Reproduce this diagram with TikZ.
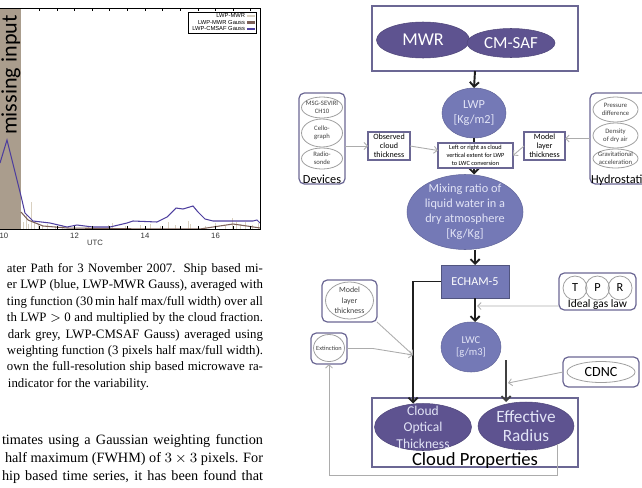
\documentclass[tikz,border=0pt]{standalone}
\usepackage{fontspec}
\setmainfont{Liberation Serif}
\newfontfamily\flow{Carlito}
\newfontfamily\plotsf{Liberation Sans}
\usetikzlibrary{shapes.geometric, arrows.meta}

\definecolor{frame}{HTML}{6B6794}
\definecolor{deep}{HTML}{5E5390}
\definecolor{mid}{HTML}{7479B6}
\definecolor{lightlab}{HTML}{E2E4F6}
\definecolor{gapshade}{HTML}{AA9D8D}
\definecolor{cmsafc}{HTML}{4D3E9E}
\definecolor{mwrgc}{HTML}{7D6158}
\definecolor{mwrc}{HTML}{D9D0C0}

\newcommand{\fsz}[2]{\fontsize{#1}{#2}\selectfont}
\newcommand{\pu}{0.2mm}
% justified line of the given width (in picture units)
\newcommand{\jline}[2]{\makebox[#1\dimexpr0.2mm\relax][s]{#2}}

\begin{document}
\begin{tikzpicture}[
    x=0.2mm, y=-0.2mm,
    every node/.style={inner sep=0pt, outer sep=0pt},
    panel/.style={rectangle, draw=frame, line width=0.9pt},
    rpanel/.style={rectangle, draw=frame, line width=0.7pt, rounded corners=3pt},
    box/.style={rectangle, draw=frame, line width=0.6pt, fill=white, align=center},
    darkell/.style={ellipse, fill=deep, draw=deep!85!black, line width=0.3pt},
    midell/.style={ellipse, fill=mid, draw=mid!85!black, line width=0.3pt},
    whiteell/.style={ellipse, draw=gray!75, line width=0.45pt, fill=white},
    lab/.style={align=center, text=white},
    tinylab/.style={align=center, text=black!75, font=\flow\fsz{3.8}{4.7}},
    arrow/.style={-{Straight Barb[length=2.6pt, width=5.2pt]}, line width=1.1pt, draw=black!88},
    grayarrow/.style={-{Straight Barb[length=2pt, width=4pt]}, line width=0.5pt, draw=gray!65},
    ticklab/.style={font=\plotsf\fsz{4.4}{5}, text=black!80},
    legtxt/.style={anchor=east, font=\plotsf\fsz{3.3}{4}},
    captxt/.style={anchor=base west, font=\fsz{7.3}{9}},
    bodytxt/.style={anchor=base west, font=\fsz{8.1}{10}}
]
\useasboundingbox (0,0) rectangle (642,487);
\clip (0,0) rectangle (642,487);

% --- LWP time series ---
\fill[gapshade] (0,8) rectangle (21,229);
\node (missin) at (11,75) [rotate=90, font=\flow\fsz{12.6}{14}] {missing input};

\foreach \x/\h in {23/222, 26/215, 28/224, 31/202, 34/223, 38/225, 42/226, 47/224, 55/226, 62/225,
                   88/226, 108/225, 112/223, 125/226, 140/225, 150/224, 160/226, 168/222, 175/225,
                   188/221, 190/224, 205/226, 215/223, 225/225, 232/218, 236/222, 240/224, 245/222,
                   252/225, 258/223}
    \draw[mwrc, line width=0.4pt] (\x,229) -- (\x,\h);
\draw[mwrgc, line width=0.6pt] plot coordinates {(21,212) (28,220) (43,226) (67,228) (150,229) (200,229)
    (213,227) (233,224) (247,226) (260,228)};
\draw[cmsafc, line width=0.6pt] plot coordinates {(0,163) (7,140) (21,196) (25,213) (33,221) (50,223)
    (67,227) (77,225) (93,227) (110,227) (127,223) (133,221) (157,222) (167,217) (176,208) (183,209)
    (193,206) (198,212) (205,219) (213,221) (253,221) (257,220) (260,223)};

\draw[line width=0.5pt] (-5,8) -- (260,8) -- (260,229) -- (-5,229);
\foreach \k in {2,...,14} {
    \draw[line width=0.4pt] (4+\k*17.63,8) -- ++(0,3);
    \draw[line width=0.4pt] (4+\k*17.63,229) -- ++(0,-3);
}
\node (t10) at (4,236) [ticklab] {10};
\node (t12) at (74.5,236) [ticklab] {12};
\node (t14) at (145,236) [ticklab] {14};
\node (t16) at (215.5,236) [ticklab] {16};
\node (utc) at (95,243) [ticklab] {UTC};

\node (legbox) at (222,22.5) [draw, fill=white, line width=0.4pt, minimum width=68*\pu, minimum height=21*\pu] {};
\node (leg1) at (245,16) [legtxt] {LWP-MWR};
\node (leg2) at (245,22.5) [legtxt] {LWP-MWR Gauss};
\node (leg3) at (245,29) [legtxt] {LWP-CMSAF Gauss};
\draw[mwrc, line width=1.2pt] (247,16) -- (255,16);
\draw[mwrgc, line width=1.2pt] (247,22.5) -- (255,22.5);
\draw[cmsafc, line width=1.2pt] (247,29) -- (255,29);

% --- caption and running text ---
\node (cap1) at (7,272) [captxt] {\jline{256}{ater Path for 3 November 2007. Ship based mi-}};
\node (cap2) at (7,288) [captxt] {\jline{256}{er LWP (blue, LWP-MWR Gauss), averaged with}};
\node (cap3) at (7,305) [captxt] {\jline{256}{ting function (30\,min half max/full width) over all}};
\node (cap4) at (7,321) [captxt] {\jline{256}{th LWP $>$ 0 and multiplied by the cloud fraction.}};
\node (cap5) at (8,338) [captxt] {\jline{255}{dark grey, LWP-CMSAF Gauss) averaged using}};
\node (cap6) at (7,354) [captxt] {\jline{256}{weighting function (3 pixels half max/full width).}};
\node (cap7) at (7,370) [captxt] {\jline{256}{own the full-resolution ship based microwave ra-}};
\node (cap8) at (8,387) [captxt] {indicator for the variability.};
\node (body1) at (2,444) [bodytxt] {\jline{261}{timates using a Gaussian weighting function}};
\node (body2) at (5,462) [bodytxt] {\jline{258}{half maximum (FWHM) of $3\times3$ pixels. For}};
\node (body3) at (2,480) [bodytxt] {\jline{261}{hip based time series, it has been found that}};

% --- retrieval chain ---
\node (srcbox) at (475,38.5) [panel, minimum width=206*\pu, minimum height=65*\pu] {};
\node (mwr) at (423,40) [darkell, minimum width=93*\pu, minimum height=36*\pu,
    label={[lab, font=\flow\fsz{10.3}{12}]center:MWR}] {};
\node (cmsaf) at (511,43) [darkell, minimum width=88*\pu, minimum height=29*\pu,
    label={[lab, font=\flow\fsz{9.6}{11}]center:CM-SAF}] {};

\node (lwp) at (474,113) [midell, minimum width=64*\pu, minimum height=50*\pu,
    label={[lab, text=lightlab, font=\flow\fsz{7}{8.2}]center:LWP\\{[Kg/m2]}}] {};
\node (mix) at (465,212) [midell, minimum width=116*\pu, minimum height=75*\pu,
    label={[lab, text=lightlab, font=\flow\fsz{7}{8.5}]center:Mixing ratio of\\liquid water in a\\dry atmosphere\\{[Kg/Kg]}}] {};

\draw[arrow] (srcbox.south) -- (lwp.north);
\draw[arrow] (lwp.south) -- (lwp.south |- mix.north);

\node (devices) at (322,138.5) [rpanel, minimum width=46*\pu, minimum height=91*\pu] {};
\node (seviri) at (322,107.5) [whiteell, minimum width=41*\pu, minimum height=21*\pu,
    label={[tinylab]center:MSG-SEVIRI\\CH10}] {};
\node (cello) at (322,133) [whiteell, minimum width=41*\pu, minimum height=28*\pu,
    label={[tinylab]center:Cello-\\graph}] {};
\node (radio) at (322,158.5) [whiteell, minimum width=41*\pu, minimum height=21*\pu,
    label={[tinylab]center:Radio-\\sonde}] {};
\node (devlab) at (322,183) [anchor=base, font=\flow\fsz{7}{8}] {Devices};

\node (hydro) at (625,138.5) [rpanel, minimum width=70*\pu, minimum height=91*\pu] {};
\node (press) at (615.5,109.5) [whiteell, minimum width=45*\pu, minimum height=25*\pu,
    label={[tinylab]center:Pressure\\difference}] {};
\node (dens) at (615.5,135.5) [whiteell, minimum width=45*\pu, minimum height=25*\pu,
    label={[tinylab]center:Density\\of dry air}] {};
\node (grav) at (615.5,158.5) [whiteell, minimum width=45*\pu, minimum height=19*\pu,
    label={[tinylab]center:Gravitational\\acceleration}] {};
\node (hydlab) at (591,183) [anchor=base west, font=\flow\fsz{7}{8}] {Hydrostatic};

\node (obs) at (389,146) [box, minimum width=42*\pu, minimum height=28*\pu, font=\flow\fsz{4.6}{5.1}] {Observed\\cloud\\thickness};
\node (conv) at (475.5,155.5) [box, minimum width=75*\pu, minimum height=25*\pu, font=\flow\fsz{3.6}{4.5}] {Left or right as cloud\\vertical extent for LWP\\to LWC conversion};
\node (mlt) at (544.5,146) [box, minimum width=41*\pu, minimum height=28*\pu, font=\flow\fsz{4.6}{5.1}] {Model\\layer\\thickness};

\draw[grayarrow] (devices.east |- obs.west) -- (obs.west);
\draw[grayarrow] (obs.east) -- ([yshift=1mm]conv.west);
\draw[grayarrow] (hydro.west) -- (hydro.west -| mlt.east);
\draw[grayarrow] (mlt.west) -- (conv.east);

\node (echam) at (475,281.5) [rectangle, fill=mid, draw=mid!70!black, line width=0.5pt,
    minimum width=68*\pu, minimum height=33*\pu, text=white, font=\flow\fsz{6.9}{8}] {ECHAM-5};
\draw[arrow] (echam.north |- mix.south) -- (echam.north);

\node (lwc) at (471,347) [midell, minimum width=60*\pu, minimum height=50*\pu,
    label={[lab, text=lightlab, font=\flow\fsz{6}{7}]center:LWC\\{[g/m3]}}] {};

\node (gas) at (597.5,291.5) [rpanel, minimum width=77*\pu, minimum height=37*\pu] {};
\node (tt) at (575,288) [circle, draw=gray!75, line width=0.45pt, minimum size=24*\pu, font=\flow\fsz{7}{8}] {T};
\node (pp) at (597.5,288) [circle, draw=gray!75, line width=0.45pt, minimum size=24*\pu, font=\flow\fsz{7}{8}] {P};
\node (rr) at (620,288) [circle, draw=gray!75, line width=0.45pt, minimum size=24*\pu, font=\flow\fsz{7}{8}] {R};
\node (gaslab) at (597.5,307) [anchor=base, font=\flow\fsz{6.5}{7}] {Ideal gas law};

\node (cdnc) at (601,372) [rpanel, minimum width=76*\pu, minimum height=30*\pu] {};
\node (cdncell) at (601,372) [whiteell, minimum width=68*\pu, minimum height=21*\pu,
    label={[align=center, font=\flow\fsz{8}{9}]center:CDNC}] {};

\node (mlt2) at (349.5,301) [rpanel, minimum width=55*\pu, minimum height=42*\pu] {};
\node (mlt2ell) at (349.5,300.5) [whiteell, minimum width=48*\pu, minimum height=37*\pu,
    label={[tinylab, font=\flow\fsz{4.5}{6}]center:Model\\layer\\thickness}] {};
\node (ext) at (329,348.5) [rpanel, minimum width=36*\pu, minimum height=31*\pu] {};
\node (extell) at (329,348) [whiteell, minimum width=31*\pu, minimum height=27*\pu,
    label={[tinylab, font=\flow\fsz{3.6}{4}]center:Extinction}] {};

% --- cloud properties ---
\node (props) at (475,432.5) [panel, minimum width=206*\pu, minimum height=69*\pu] {};
\node (cot) at (423,427) [darkell, minimum width=97*\pu, minimum height=47*\pu,
    label={[lab, text=lightlab, font=\flow\fsz{7.7}{9.4}]center:Cloud\\Optical\\Thickness}] {};
\node (effr) at (526,426) [darkell, minimum width=96*\pu, minimum height=48*\pu,
    label={[lab, text=lightlab, font=\flow\fsz{9.8}{11}]center:Effective\\Radius}] {};
\node (proplab) at (475,465) [anchor=base, font=\flow\fsz{10.6}{12}] {Cloud Properties};

\coordinate (lwcout) at (506,360);
\coordinate (modin) at (413,355);
\coordinate (gasin) at (477,306);
\coordinate (cdncin) at (508,383);

\draw[arrow] (echam.south) -- (echam.south |- lwc.north);
\draw[arrow] (echam.west) -| ([xshift=-2mm]cot.north);
\draw[arrow, draw=black!75] (lwcout) -- (lwcout |- effr.north);

\draw[grayarrow] ([yshift=0.8mm]gas.south west) -- (gasin);
\draw[grayarrow] (cdnc.west) -- (cdncin);
\draw[grayarrow] (mlt2.south east) -- (modin);
\draw[grayarrow] (ext.east) -- ++(26,0) -- (modin);
\draw[grayarrow] (effr.-30) -- ++(0,31) -| (ext.south);

\end{tikzpicture}
\end{document}
